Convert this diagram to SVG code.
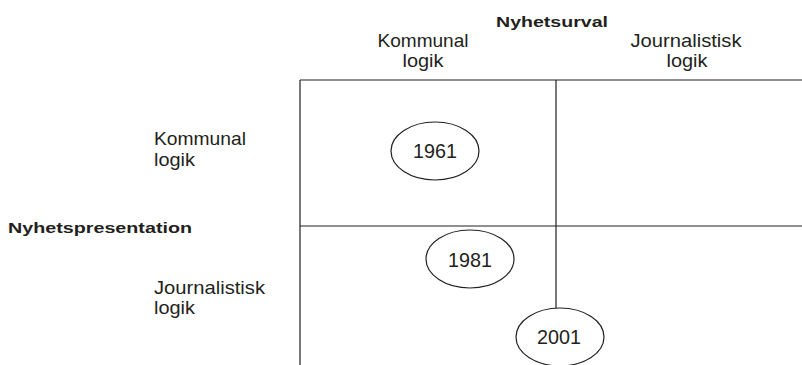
<svg xmlns="http://www.w3.org/2000/svg" width="802" height="365" viewBox="0 0 802 365">
<style>
.t{font-family:"Liberation Sans",Arial,sans-serif;font-size:18.5px;fill:#231f20}
.b{font-family:"Liberation Sans",Arial,sans-serif;font-size:15.5px;font-weight:bold;fill:#231f20}
.y{font-family:"Liberation Sans",Arial,sans-serif;font-size:21px;fill:#231f20;text-anchor:middle}
.l{stroke:#231f20;stroke-width:1.2;fill:none}
.e{stroke:#231f20;stroke-width:1.2;fill:#fff}
</style>
<rect width="802" height="365" fill="#fff"/>
<g id="grid">
<line class="l" x1="300" y1="80" x2="802" y2="80"/>
<line class="l" x1="300" y1="80" x2="300" y2="365"/>
<line class="l" x1="300" y1="226" x2="802" y2="226"/>
<line class="l" x1="556" y1="80" x2="556" y2="308"/>
</g>
<g id="headers">
<text class="b" x="552" y="27" text-anchor="middle" textLength="112" lengthAdjust="spacingAndGlyphs">Nyhetsurval</text>
<text class="t" x="423" y="47" text-anchor="middle" textLength="91" lengthAdjust="spacingAndGlyphs">Kommunal</text>
<text class="t" x="423" y="67" text-anchor="middle" textLength="41" lengthAdjust="spacingAndGlyphs">logik</text>
<text class="t" x="686" y="47" text-anchor="middle" textLength="111" lengthAdjust="spacingAndGlyphs">Journalistisk</text>
<text class="t" x="687" y="67" text-anchor="middle" textLength="41" lengthAdjust="spacingAndGlyphs">logik</text>
<text class="b" x="8" y="233" textLength="184" lengthAdjust="spacingAndGlyphs">Nyhetspresentation</text>
<text class="t" x="154" y="145" textLength="92" lengthAdjust="spacingAndGlyphs">Kommunal</text>
<text class="t" x="154" y="166" textLength="41" lengthAdjust="spacingAndGlyphs">logik</text>
<text class="t" x="154" y="294" textLength="111" lengthAdjust="spacingAndGlyphs">Journalistisk</text>
<text class="t" x="154" y="314" textLength="41" lengthAdjust="spacingAndGlyphs">logik</text>
</g>
<g id="n1961">
<ellipse class="e" cx="435" cy="151" rx="44" ry="29"/>
<text class="y" x="435" y="158" textLength="44" lengthAdjust="spacingAndGlyphs">1961</text>
</g>
<g id="n1981">
<ellipse class="e" cx="470" cy="259" rx="44" ry="29"/>
<text class="y" x="470" y="267" textLength="44" lengthAdjust="spacingAndGlyphs">1981</text>
</g>
<g id="n2001">
<ellipse class="e" cx="560" cy="337" rx="44" ry="29"/>
<text class="y" x="559" y="344" textLength="44" lengthAdjust="spacingAndGlyphs">2001</text>
</g>
</svg>
